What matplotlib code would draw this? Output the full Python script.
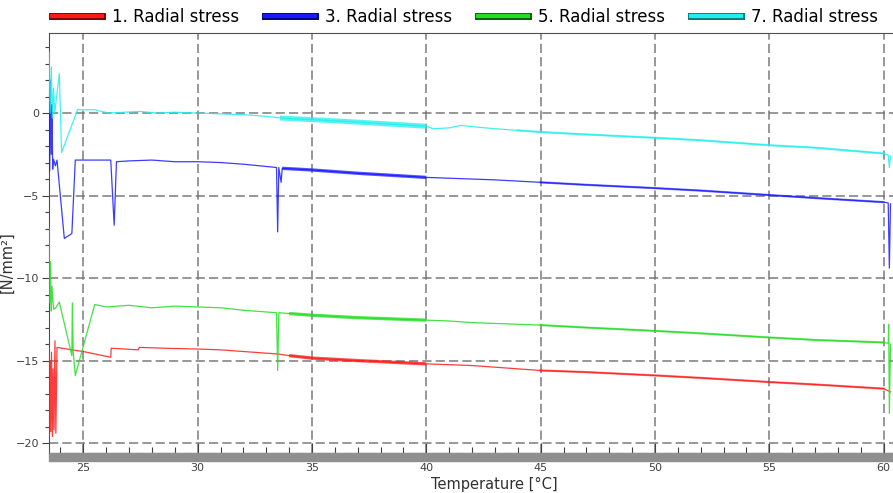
import numpy as np
import matplotlib
matplotlib.use("Agg")
import matplotlib.pyplot as plt
import matplotlib.patheffects as pe
from matplotlib.lines import Line2D
from matplotlib.patches import Rectangle

# radial stress [N/mm2] vs temperature [degC]
t1 = [23.50, 23.52, 23.55, 23.58, 23.61, 23.65, 23.68, 23.72, 23.76, 23.80, 23.85,
      24.5, 25.0, 26.2, 26.22, 27.4, 27.45, 28.5, 30.0, 31.0, 32.0, 33.5, 34.0, 35.0,
      37.0, 40.0, 41.0, 42.0, 43.0, 45.0, 47.0, 50.0, 52.0, 55.0, 57.0, 60.0, 60.3]
s1 = [-14.0, -19.5, -15.0, -19.3, -14.5, -19.6, -15.5, -19.2, -13.8, -19.4, -14.2,
      -14.35, -14.45, -14.8, -14.25, -14.35, -14.2, -14.25, -14.3, -14.35, -14.45, -14.6, -14.7, -14.85,
      -15.0, -15.2, -15.25, -15.3, -15.4, -15.6, -15.7, -15.9, -16.05, -16.3, -16.45, -16.7, -16.9]

t3 = [23.50, 23.53, 23.56, 23.60, 23.63, 23.66, 23.70, 23.78, 23.85, 24.17, 24.5,
      24.65, 26.2, 26.35, 26.45, 27.0, 28.0, 29.0, 30.0, 31.0, 32.0, 33.45, 33.5,
      33.55, 33.65, 33.7, 35.0, 37.0, 40.0, 41.0, 42.0, 43.0, 45.0, 47.0, 50.0,
      52.0, 55.0, 57.0, 60.0, 60.2, 60.25, 60.3]
s3 = [3.0, -3.5, 2.0, -2.5, 0.5, -3.4, -2.8, -3.2, -2.85, -7.6, -7.3,
      -2.85, -2.85, -6.8, -2.95, -2.9, -2.85, -2.95, -2.95, -3.0, -3.1, -3.3, -7.2,
      -3.3, -4.2, -3.35, -3.45, -3.65, -3.9, -3.95, -4.0, -4.05, -4.2, -4.35, -4.55,
      -4.7, -4.97, -5.15, -5.4, -5.45, -9.4, -5.5]

t5 = [23.50, 23.53, 23.56, 23.60, 23.63, 23.70, 23.80, 23.95, 24.50, 24.52, 24.56,
      24.65, 25.5, 26.0, 27.0, 28.0, 29.0, 30.0, 31.0, 32.0, 33.45, 33.5, 33.55, 34.0,
      35.0, 37.0, 40.0, 41.0, 42.0, 43.0, 45.0, 47.0, 50.0, 52.0, 55.0, 57.0,
      60.0, 60.2, 60.22, 60.25, 60.3]
s5 = [-7.0, -11.5, -9.0, -12.0, -10.5, -11.9, -11.8, -11.45, -14.7, -11.5, -14.5,
      -15.9, -11.6, -11.75, -11.65, -11.8, -11.7, -11.75, -11.8, -11.95, -12.1, -15.6, -12.1, -12.15,
      -12.25, -12.4, -12.55, -12.6, -12.7, -12.75, -12.85, -13.0, -13.2, -13.35, -13.6, -13.75,
      -13.9, -13.95, -12.8, -18.2, -14.0]

t7 = [23.50, 23.55, 23.60, 23.65, 23.70, 23.75, 23.95, 24.05, 24.75, 25.5, 26.1,
      26.8, 27.5, 28.2, 29.0, 30.0, 31.0, 32.0, 33.0, 33.6, 34.0, 35.0, 37.0, 40.0,
      40.3, 41.0, 41.5, 42.2, 43.0, 44.0, 45.0, 47.0, 50.0, 52.0, 55.0, 57.0,
      60.0, 60.2, 60.25, 60.3]
s7 = [3.7, 0.0, 2.8, -0.3, 1.5, 0.0, 2.4, -2.4, 0.2, 0.2, 0.0,
      0.05, 0.1, 0.0, 0.05, 0.0, -0.05, -0.1, -0.2, -0.3, -0.33, -0.4, -0.55, -0.8,
      -0.95, -0.9, -0.75, -0.85, -0.95, -1.05, -1.15, -1.3, -1.5, -1.65, -1.95, -2.1,
      -2.45, -2.55, -3.3, -2.6]

labels = ["1. Radial stress", "3. Radial stress", "5. Radial stress", "7. Radial stress"]
colors = ["#ff1a1a", "#1a1aff", "#22dd22", "#22eeee"]
edges = ["#7a0000", "#00007a", "#006000", "#007a7a"]
dense_lw = [2.4, 2.4, 2.4, 3.6]

series = [(t1, s1), (t3, s3), (t5, s5), (t7, s7)]

fig = plt.figure(figsize=(8.93, 4.93), dpi=100)
ax = fig.add_axes([49 / 893, 1 - 453 / 493, 1 - 49 / 893 + 0.01, 420 / 493])

for (t, s), c, w in zip(series, colors, dense_lw):
    t = np.array(t)
    s = np.array(s)
    ax.plot(t, s, color=c, lw=0.9, alpha=0.85, zorder=3)
    # noisy part of the record drawn as a thicker trace
    m = (t >= 33.6) & (t <= 40.0)
    if c == colors[1] or c == colors[2]:
        m = (t >= 33.7) & (t <= 40.0)
    ax.plot(t[m], s[m], color=c, lw=w, alpha=0.75, zorder=3, solid_capstyle="butt")
    m = (t >= 44.0) & (t <= 60.0)
    ax.plot(t[m], s[m], color=c, lw=1.6, alpha=0.6, zorder=3)

ax.set_xlim(23.5, 60.8)
ax.set_ylim(-20.6, 4.85)
ax.set_xticks([25, 30, 35, 40, 45, 50, 55, 60])
ax.set_xticks(np.arange(24, 61, 1), minor=True)
ax.set_yticks([0, -5, -10, -15, -20])
ax.set_yticks(np.arange(-20, 5, 1), minor=True)

ax.grid(True, which="major", color="#707070", lw=1.2, linestyle=(0, (5.5, 2.5)), alpha=0.85)
ax.set_axisbelow(True)

for sp in ["left", "top", "bottom"]:
    ax.spines[sp].set_color("#505050")
    ax.spines[sp].set_linewidth(0.8)
ax.spines["right"].set_visible(False)

ax.tick_params(axis="x", which="major", direction="in", length=7, width=0.8,
               colors="#404040", labelsize=8, pad=7)
ax.tick_params(axis="x", which="minor", direction="in", length=4, width=0.8, colors="#404040")
ax.tick_params(axis="y", which="major", direction="out", length=5, width=0.8,
               colors="#404040", labelsize=8, pad=2)
ax.tick_params(axis="y", which="minor", direction="out", length=3, width=0.8, colors="#404040")

# grey bar under the x axis
ax.add_patch(Rectangle((0, -0.019), 1.2, 0.019, transform=ax.transAxes,
                       color="#8f8f8f", clip_on=False, zorder=5))

ax.set_xlabel("Temperature [°C]", fontsize=10.5, color="#303030")
ax.xaxis.set_label_coords(0.522, -0.058)
ax.set_ylabel("[N/mm²]", fontsize=10.5, color="#303030")
ax.yaxis.set_label_coords(-0.04, 0.455)

handles = [Line2D([], [], color=c, lw=3,
                  path_effects=[pe.Stroke(linewidth=5, foreground=e), pe.Normal()])
           for c, e in zip(colors, edges)]
fig.legend(handles, labels, loc="center left", bbox_to_anchor=(52 / 893, 1 - 17 / 493),
           ncol=4, frameon=False, fontsize=12, handlelength=3.0, handletextpad=0.6,
           columnspacing=1.55, borderpad=0, borderaxespad=0)

fig.savefig("out.png", dpi=100)
